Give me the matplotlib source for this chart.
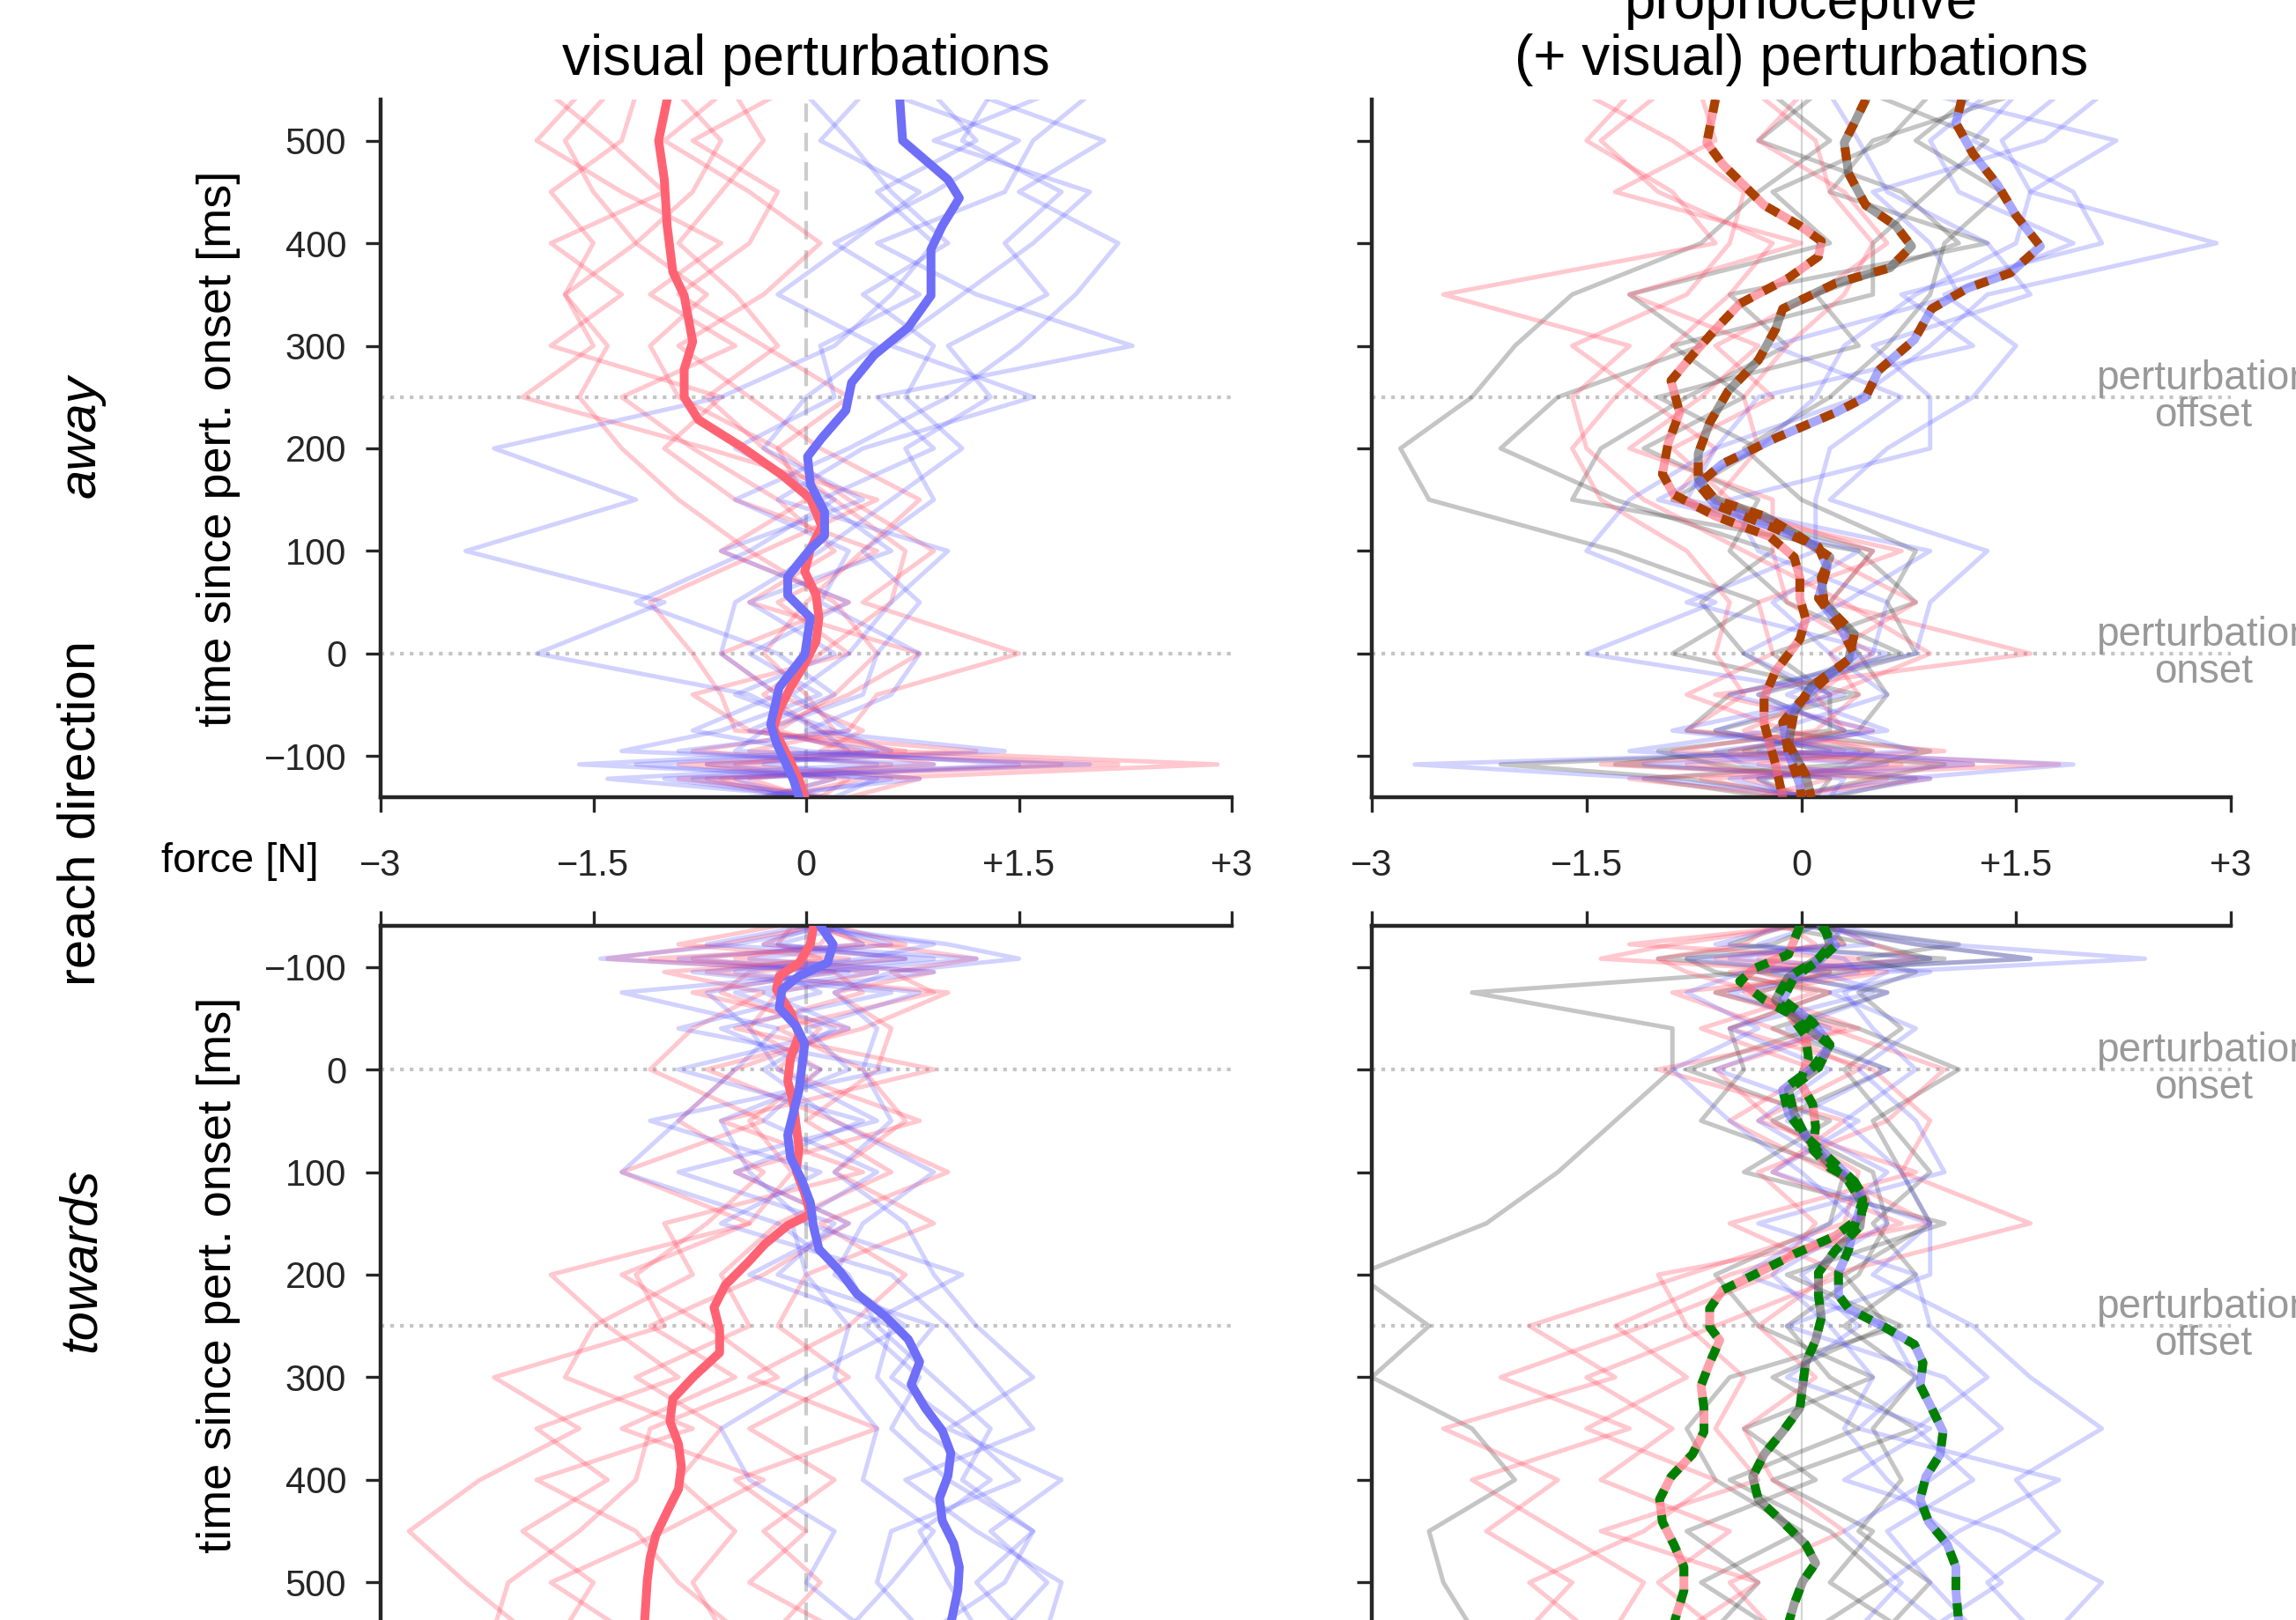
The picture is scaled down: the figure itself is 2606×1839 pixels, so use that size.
import matplotlib

matplotlib.use("Agg")
import matplotlib.pyplot as plt

plt.rcParams["font.family"] = ["Liberation Sans", "DejaVu Sans"]

# ---------------------------------------------------------------- data
# time grid (ms since perturbation onset) for the single-trial traces
T_THIN = [-140, -122, -108, -95, -75, -40, 0, 50, 100, 150, 200, 250, 300, 350, 400, 450, 500, 545]

# away / visual
AWAY_VIS_RED = [
    [0.1, -0.6, 0.9, 0.3, -0.2, 0.2, 0.5, 0.2, -0.4, -0.9, -1.3, -1.6, -1.4, -1.7, -1.5, -1.8, -1.3, -1.2],
    [-0.2, 0.4, 2.9, 0.6, 0.1, -0.3, 0.1, 0.6, 0.7, 0.2, -0.3, -0.7, -0.2, -0.5, -0.9, -0.6, -0.3, -0.5],
    [0.2, -0.9, 1.8, -0.4, 0.3, 0.5, 1.5, 0.4, 0.9, 0.3, -0.2, -0.9, -1.1, -0.7, -1.2, -0.8, -0.6, -0.9],
    [-0.3, 0.2, -0.7, 1.2, -0.5, -0.6, -0.8, -1.1, -0.3, 0.5, -0.7, -2.0, -1.5, -1.7, -1.2, -1.5, -1.7, -1.4],
    [0.0, -0.4, 0.6, -0.8, 0.2, 0.0, -0.3, 0.0, 0.4, 0.8, 0.1, -0.4, -0.9, -0.3, 0.1, -0.4, -1.0, -0.6],
    [0.3, 0.8, -0.5, 0.4, -0.3, 0.3, 0.8, -0.4, 0.2, -0.2, -0.8, -1.3, -0.5, -1.1, -0.6, -1.3, -1.9, -1.6],
    [-0.1, -0.7, 2.2, 0.1, 0.4, -0.2, -0.6, 0.3, -0.6, 0.0, -0.2, 0.3, -0.3, -0.9, -0.4, -0.2, -0.8, -0.2],
    [0.1, 0.3, -0.9, 0.7, -0.4, -0.8, 0.3, -0.2, 0.5, -0.5, -1.0, -0.6, -1.8, -1.3, -1.8, -1.0, -1.4, -1.8],
]
AWAY_VIS_BLUE = [
    [-0.2, 0.6, -1.6, 0.3, 0.1, -0.4, -1.9, -1.0, -2.4, -1.2, -2.2, -0.6, 0.2, 0.6, 0.9, 0.5, 1.2, 0.9],
    [0.1, -0.8, 2.0, -0.5, -0.3, 0.4, 0.5, 0.8, 0.4, 0.9, 0.7, 1.3, 1.0, 1.7, 1.4, 1.8, 1.1, 1.3],
    [-0.3, 0.2, -1.2, 0.6, 0.2, -0.5, 0.2, -0.4, 0.6, 0.1, 0.9, 0.5, 2.3, 1.2, 0.5, 1.4, 1.6, 2.0],
    [0.0, -1.0, 0.9, -1.3, -0.6, 0.1, -0.4, 0.3, -0.6, 0.4, -0.3, 0.0, 0.5, -0.2, 0.3, 0.8, 0.1, 0.4],
    [0.2, 0.5, -0.7, 1.4, 0.0, 0.6, 0.8, 0.1, 0.3, -0.5, 0.3, 1.0, 1.5, 1.9, 2.2, 1.5, 2.1, 1.2],
    [-0.1, -0.5, 1.5, 0.0, -0.8, -0.2, -0.6, -0.5, 0.1, 0.6, 1.1, 0.7, 0.9, 0.4, 1.0, 0.6, 0.3, 0.0],
    [0.1, -1.4, 0.5, -0.9, 0.3, -0.1, 0.3, 0.6, 1.0, -0.2, 0.4, 1.6, 0.6, 1.1, 1.6, 2.0, 0.9, 1.7],
    [-0.4, 0.8, -0.3, 0.5, -0.4, 0.2, -0.2, -1.2, -0.4, 0.2, -0.5, 0.2, 0.1, 0.8, 0.2, 0.9, 1.5, 0.6],
]

# towards / visual
TOW_VIS_RED = [
    [0.1, -0.6, -1.4, 0.2, -0.8, 0.3, -0.5, -0.9, -0.3, -0.7, -1.2, -1.0, -2.2, -1.6, -2.3, -2.8, -2.4, -2.0],
    [0.0, 0.5, 1.2, 0.6, 0.9, -0.2, 0.4, 0.7, 0.2, 0.9, 0.0, -0.2, 0.3, -0.4, 0.2, -0.3, 0.1, -0.2],
    [-0.2, -0.9, 0.3, -1.0, -0.3, -0.8, -1.1, -0.3, -1.3, -0.4, -1.8, -1.4, -0.9, -1.9, -1.4, -2.0, -1.5, -1.7],
    [0.2, 0.1, -0.5, 0.9, 0.2, 0.6, 0.5, 0.0, 0.6, -0.2, -0.6, -0.4, -1.2, -0.6, -0.9, -0.5, -0.8, -0.6],
    [0.0, -0.3, 0.7, -0.4, -0.6, 0.1, -0.2, 0.8, -0.5, 0.3, -0.3, -1.1, -0.5, -1.3, -0.3, -1.0, -1.8, -1.3],
    [0.1, 0.4, -0.8, 0.2, 0.4, -0.5, 0.9, -0.6, 0.4, -1.0, -0.8, -1.5, -1.7, -0.8, -1.9, -1.2, -0.9, -0.5],
    [-0.1, -0.2, 0.1, -0.7, 1.0, 0.4, -0.7, 0.2, 1.0, 0.1, 0.7, 0.3, -0.4, 0.5, -0.5, 0.0, -0.4, 0.2],
    [0.2, 0.7, -1.1, 0.5, -0.2, -0.4, 0.1, -0.4, -0.1, -0.4, -1.3, -0.7, -0.2, -1.1, -1.2, -1.6, -2.1, -2.2],
]
TOW_VIS_BLUE = [
    [0.2, -0.5, -1.45, 0.3, -1.3, -0.2, -0.5, -0.9, -1.3, -0.2, 0.3, 0.5, 0.9, 1.3, 1.1, 1.6, 1.2, 1.5],
    [0.0, 1.0, 1.5, 0.6, 0.2, 0.5, 0.4, 0.6, 0.2, 0.7, 0.9, 1.2, 1.6, 1.0, 1.8, 1.3, 1.7, 1.4],
    [0.3, -0.2, 0.7, -0.8, 0.6, -0.6, 0.1, -0.3, 0.5, -0.1, 0.0, 0.3, 0.2, 0.5, 0.4, 0.9, 0.6, 0.3],
    [0.1, 0.6, -0.4, 0.9, -0.3, 0.3, -0.9, 0.4, -0.5, 0.3, -0.4, 0.6, 0.5, 0.8, 1.3, 0.8, 1.0, 1.2],
    [0.0, -0.7, 0.9, -0.2, 0.1, -0.9, 0.6, -1.1, 0.1, -0.6, 0.6, 1.0, 1.3, 1.6, 0.7, 1.2, 1.8, 1.7],
    [0.2, 0.4, -0.9, 0.5, -0.5, 0.2, -0.3, 0.2, 0.9, 0.4, 0.2, 0.7, 0.0, -0.6, -0.4, 0.2, 0.0, 0.4],
    [-0.1, 0.9, 0.4, -0.5, 0.8, 0.0, 0.3, -0.6, -0.4, 0.0, 1.1, 0.4, 0.8, 0.6, 1.0, 1.6, 1.4, 0.9],
    [0.1, -0.3, 1.2, 0.1, -0.7, -0.4, -0.2, 0.5, -0.9, 0.2, -0.2, 0.9, 0.6, 1.1, 1.5, 0.6, 0.5, 0.8],
]

# away / proprioceptive
AWAY_PRO_RED = [
    [-0.1, 0.6, -1.4, 0.3, -0.4, 0.2, 0.9, 0.3, -0.4, -1.1, -1.5, -1.6, -1.2, -2.5, -0.6, -0.9, -1.5, -1.2],
    [0.0, -0.7, 1.8, -0.2, 0.5, -0.6, 1.6, 0.2, 0.5, -0.6, -0.3, -0.4, -0.1, 0.3, 0.5, 0.2, 0.1, -0.3],
    [-0.3, 0.2, -0.8, 1.0, -0.8, -0.4, -0.6, -0.5, -0.8, -1.4, -1.6, -1.3, -0.9, -0.5, -0.2, -1.0, -1.4, -1.0],
    [0.1, -0.4, 0.7, -0.9, 0.1, 0.4, 0.2, 0.8, 0.1, -0.5, -0.9, -0.2, -0.6, 0.1, 0.6, 0.3, -0.3, 0.0],
    [-0.2, 0.9, -0.3, 0.5, -0.1, -0.8, -0.2, -0.3, 0.7, -0.9, -0.6, -1.1, -1.6, -0.8, -0.5, -0.4, -0.9, -1.5],
    [0.0, -1.2, 1.2, -0.5, 0.3, 0.1, 0.5, -0.1, -0.2, -0.2, -1.2, -0.7, -0.3, -1.2, 0.0, -1.3, -0.6, -0.7],
]
AWAY_PRO_BLUE = [
    [0.1, -1.0, -2.7, 0.4, -0.9, 0.3, -1.5, -0.6, -1.5, -1.2, -0.6, 0.4, 0.9, 1.3, 2.9, 1.6, 1.4, 1.8],
    [-0.2, 0.7, 1.9, -0.3, 0.5, -0.5, 0.8, 0.9, 1.3, 0.2, 0.6, 1.2, 1.5, 1.0, 1.9, 1.1, 0.9, 1.3],
    [0.0, -0.5, 0.6, -1.2, -0.2, 0.6, 0.2, -0.2, 0.4, -1.0, -0.3, 0.1, 0.3, 0.8, 1.5, 1.6, 2.2, 0.9],
    [0.2, 0.3, -1.1, 0.8, 0.3, -0.3, 0.5, 0.6, -0.3, -0.5, 0.9, 0.9, 0.5, 1.6, 1.3, 0.6, 0.4, 0.2],
    [-0.1, -0.3, 1.2, 0.2, -0.6, 0.2, -0.4, 0.3, 0.9, -0.8, -0.6, -0.3, 1.2, 0.7, 2.1, 1.9, 1.2, 1.5],
    [0.1, 0.9, -0.4, -0.6, 0.6, -0.1, 0.6, -0.8, 0.1, 0.1, 0.2, 0.7, -0.2, 1.1, 0.9, 0.5, 1.7, 2.1],
]
AWAY_PRO_GRAY = [
    [0.1, -0.8, -2.1, 0.2, -0.6, 0.4, -0.9, -0.3, -1.3, -2.6, -2.8, -2.3, -2.0, -1.6, -0.7, -0.3, 0.2, -0.2],
    [-0.1, 0.5, 1.0, -0.4, 0.3, -0.3, 0.8, 0.6, 0.8, 0.0, -0.4, 0.2, 0.6, 0.9, 1.0, 1.4, 0.8, 1.2],
    [0.0, -0.3, 0.5, 0.9, -0.2, 0.1, -0.4, -0.7, -0.2, -1.3, -2.1, -1.7, -0.7, -1.2, 0.2, -0.2, 0.6, 0.9],
    [0.2, 0.8, -1.3, -0.5, 0.4, 0.6, 0.4, 0.2, 0.5, -0.9, -0.3, -1.0, 0.4, 0.1, 1.1, 0.7, -0.3, 0.1],
    [-0.2, -1.1, 0.3, 0.5, -0.8, -0.5, 0.7, -0.1, -0.5, -0.3, -1.1, -0.4, -0.9, 0.5, 0.5, 0.9, 1.3, 0.5],
    [0.1, 0.2, -0.6, -1.0, 0.2, 0.2, -0.2, 0.8, 0.4, -1.6, -1.4, -0.8, -0.1, -0.5, 1.3, 0.2, 0.5, 1.5],
]

# towards / proprioceptive
TOW_PRO_RED = [
    [0.0, -0.9, -1.4, 0.2, -0.6, 0.3, -0.6, -0.2, 0.4, 0.3, -0.8, -1.9, -1.3, -2.5, -1.7, -2.2, -1.6, -1.9],
    [0.2, 0.5, 0.8, -0.3, 0.2, -0.5, 0.5, 0.9, 0.7, 1.6, 0.2, -0.3, 0.1, -0.4, -0.2, 0.3, -0.5, -0.2],
    [-0.2, -0.4, -1.0, -0.8, -0.3, 0.4, -1.0, 0.3, -0.2, 0.7, -0.5, -1.3, -0.8, -1.5, -0.6, -1.1, -1.9, -1.5],
    [0.1, 0.3, -0.6, 0.5, -0.9, -0.2, 0.4, -0.3, 0.8, -0.5, 0.3, -0.6, -1.5, -0.9, -1.4, -0.5, -1.0, -0.6],
    [0.0, -1.2, 0.4, -0.5, 0.1, -0.7, 0.1, -0.5, 0.2, 0.9, -1.0, -0.8, -0.4, -0.6, -0.3, -1.4, -0.3, -0.8],
    [-0.1, 0.1, -0.3, 0.6, -0.4, 0.2, 1.0, 0.6, -0.3, 0.1, -0.2, -1.1, -2.1, -1.2, -2.3, -1.7, -1.1, -1.3],
]
TOW_PRO_BLUE = [
    [0.2, 1.0, 2.4, 0.6, 0.3, 0.5, 0.8, 0.3, 0.7, 0.9, 0.5, 1.2, 1.6, 2.1, 1.5, 1.8, 1.3, 1.6],
    [-0.1, -0.6, 0.9, -0.4, -0.8, -0.3, -0.9, -0.5, 0.0, 0.4, -0.2, 0.2, 0.5, 0.3, 0.6, 1.0, 1.4, 0.9],
    [0.3, 0.2, -0.5, 0.9, 0.2, 0.8, 0.4, 0.8, 1.0, -0.3, 0.8, 0.9, 1.3, 0.8, 1.2, 0.6, 0.9, 1.2],
    [0.0, 0.8, 1.6, -0.2, 0.5, -0.5, 0.2, -0.3, 0.3, 0.6, 0.0, 0.4, -0.1, 0.9, 0.3, 1.4, 2.1, 1.8],
    [0.1, -0.3, 0.3, 0.4, -0.5, 0.2, -0.6, 0.4, -0.2, 0.9, 0.9, -0.1, 1.0, 1.4, 0.9, 0.3, 0.7, 0.4],
    [0.2, 0.5, -0.8, 0.1, 0.6, -0.1, 0.6, -0.1, 0.6, 0.2, -0.4, 0.6, 0.8, 0.4, 1.8, 1.1, 0.6, 1.0],
]
TOW_PRO_GRAY = [
    [0.1, 0.8, 1.6, -0.3, -2.3, -0.9, -0.9, -1.3, -1.7, -2.2, -3.1, -2.6, -3.0, -2.3, -2.0, -2.6, -2.5, -2.3],
    [-0.1, -0.5, 1.0, 0.3, -0.6, 0.4, 1.1, 0.5, 0.7, 0.9, 0.3, 0.6, -0.2, 0.4, -0.5, 0.2, 0.6, 0.1],
    [0.2, 0.3, -0.8, -0.6, 0.2, -0.5, -0.4, -0.7, 0.3, 0.2, -0.6, -0.3, 0.5, -0.4, 0.1, -0.8, -0.3, -0.6],
    [0.0, 1.1, 0.4, 0.8, 0.4, 0.7, 0.3, 0.6, 0.9, 0.5, 0.8, 0.3, 0.8, 0.5, 0.7, 0.4, 0.9, 0.6],
    [0.1, -0.2, -1.0, 0.2, -0.3, 0.1, -0.8, 0.2, -0.4, 1.0, -0.1, 0.7, -0.5, -0.8, -0.6, 0.0, -0.7, -0.2],
    [-0.2, 0.5, 0.9, -0.3, 0.6, -0.2, 0.6, -0.2, 0.5, 0.6, 0.4, -0.1, 0.2, 0.8, -0.2, 0.5, 0.2, 0.7],
]

# condition means (time, force)
AV_RED_T = [540, 500, 462, 417, 372, 349, 304, 277, 250, 228, 201, 174, 151, 124, 102, 80, 57, 35, 12, -10, -33, -55, -73, -100, -123, -140]
AV_RED_X = [-0.98, -1.04, -1.0, -0.98, -0.94, -0.86, -0.80, -0.86, -0.86, -0.76, -0.45, -0.17, 0.03, 0.11, 0.03, -0.01, 0.07, 0.09, 0.07, -0.01, -0.11, -0.19, -0.23, -0.13, -0.05, -0.01]
AV_BLUE_T = [540, 500, 462, 444, 417, 394, 349, 318, 291, 264, 237, 210, 192, 165, 138, 115, 102, 75, 57, 35, -1, -33, -69, -87, -123, -140]
AV_BLUE_X = [0.66, 0.68, 1.0, 1.08, 0.96, 0.88, 0.88, 0.72, 0.48, 0.32, 0.28, 0.11, 0.01, 0.03, 0.13, 0.13, 0.03, -0.13, -0.13, 0.03, -0.01, -0.19, -0.25, -0.21, -0.09, -0.05]

TV_RED_T = [-138, -122, -104, -91, -78, -56, -34, -11, 11, 33, 55, 77, 99, 121, 141, 152, 170, 188, 210, 232, 254, 276, 299, 321, 343, 365, 387, 409, 431, 454, 476, 498, 540]
TV_RED_X = [0.05, 0.03, -0.05, -0.19, -0.21, -0.11, -0.05, -0.11, -0.13, -0.09, -0.07, -0.05, -0.07, -0.01, 0.03, -0.13, -0.29, -0.41, -0.57, -0.65, -0.61, -0.61, -0.79, -0.94, -0.96, -0.90, -0.88, -0.90, -0.98, -1.06, -1.10, -1.12, -1.14]
TV_BLUE_T = [-138, -122, -104, -91, -78, -60, -42, -25, -3, 20, 42, 64, 86, 108, 130, 152, 175, 197, 219, 241, 263, 285, 307, 330, 352, 374, 396, 418, 440, 462, 485, 507, 540]
TV_BLUE_X = [0.11, 0.19, 0.15, -0.05, -0.17, -0.19, -0.07, -0.01, -0.03, -0.05, -0.09, -0.13, -0.11, -0.03, 0.03, 0.05, 0.09, 0.24, 0.36, 0.56, 0.72, 0.80, 0.74, 0.84, 0.96, 1.02, 1.00, 0.94, 0.96, 1.04, 1.08, 1.07, 1.02]

AP_RED_T = [540, 498, 477, 437, 417, 402, 387, 366, 341, 316, 291, 266, 235, 205, 175, 155, 134, 114, 94, 74, 54, 34, 14, -17, -43, -68, -88, -108, -140]
AP_RED_X = [-0.60, -0.66, -0.55, -0.26, -0.01, 0.14, 0.12, -0.09, -0.43, -0.60, -0.76, -0.91, -0.85, -0.93, -0.97, -0.89, -0.60, -0.22, -0.05, -0.01, -0.01, 0.03, -0.01, -0.18, -0.26, -0.26, -0.22, -0.18, -0.13]
AP_GRAY_T = [540, 517, 498, 468, 437, 417, 397, 376, 361, 336, 316, 286, 256, 225, 195, 170, 150, 134, 114, 94, 74, 49, 19, -6, -32, -57, -88, -118, -140]
AP_GRAY_X = [0.45, 0.37, 0.30, 0.33, 0.45, 0.66, 0.77, 0.62, 0.24, -0.13, -0.18, -0.30, -0.51, -0.64, -0.72, -0.72, -0.60, -0.26, -0.01, 0.20, 0.14, 0.16, 0.37, 0.33, 0.07, -0.05, -0.09, 0.03, 0.07]
AP_BLUE_T = [540, 517, 487, 457, 427, 397, 371, 356, 336, 306, 276, 250, 235, 210, 185, 165, 145, 124, 104, 84, 54, 24, -1, -21, -47, -67, -97, -128, -140]
AP_BLUE_X = [1.12, 1.08, 1.20, 1.37, 1.50, 1.67, 1.46, 1.16, 0.91, 0.79, 0.54, 0.45, 0.24, -0.18, -0.55, -0.72, -0.60, -0.22, 0.12, 0.18, 0.12, 0.28, 0.37, 0.20, -0.01, -0.13, -0.09, -0.01, 0.0]

TP_RED_T = [-140, -112, -99, -86, -68, -55, -33, -11, 12, 34, 56, 78, 96, 109, 127, 144, 162, 180, 198, 215, 233, 251, 264, 286, 308, 330, 353, 375, 397, 419, 441, 463, 485, 508, 540]
TP_RED_X = [-0.01, -0.09, -0.32, -0.43, -0.26, -0.09, 0.03, 0.05, -0.01, 0.08, 0.10, 0.08, 0.20, 0.37, 0.45, 0.41, 0.24, -0.05, -0.30, -0.55, -0.64, -0.64, -0.57, -0.64, -0.70, -0.68, -0.68, -0.76, -0.91, -0.99, -0.97, -0.89, -0.82, -0.82, -0.89]
TP_GRAY_T = [-140, -121, -108, -90, -68, -46, -24, -2, 20, 43, 65, 87, 109, 131, 153, 176, 198, 220, 242, 264, 286, 308, 330, 353, 375, 397, 419, 441, 463, 481, 499, 521, 540]
TP_GRAY_X = [0.16, 0.20, 0.12, -0.09, -0.18, -0.01, 0.20, 0.12, -0.09, -0.05, 0.03, 0.16, 0.33, 0.43, 0.41, 0.24, 0.12, 0.12, 0.14, 0.10, 0.03, 0.01, -0.01, -0.13, -0.26, -0.34, -0.30, -0.13, 0.03, 0.10, 0.01, -0.05, -0.09]
TP_BLUE_T = [-140, -121, -108, -90, -68, -46, -24, -2, 20, 43, 65, 87, 109, 127, 153, 176, 198, 220, 233, 251, 268, 286, 308, 330, 353, 375, 397, 419, 441, 463, 485, 508, 540]
TP_BLUE_X = [0.14, 0.24, 0.14, -0.05, -0.13, 0.08, 0.20, 0.08, -0.13, -0.09, 0.03, 0.20, 0.37, 0.43, 0.37, 0.33, 0.26, 0.26, 0.33, 0.58, 0.79, 0.85, 0.83, 0.91, 0.99, 0.97, 0.87, 0.83, 0.89, 1.02, 1.08, 1.08, 1.10]

X_TICKS = [-3, -1.5, 0, 1.5, 3]
X_TICK_LABELS = ["\u22123", "\u22121.5", "0", "+1.5", "+3"]
Y_TICKS = [-100, 0, 100, 200, 300, 400, 500]
EVENT_TIMES = [0, 250]
EVENT_LABELS = ["perturbation\nonset", "perturbation\noffset"]

# ---------------------------------------------------------------- styles
RED_THIN = (1.0, 0.33, 0.42, 0.32)
BLUE_THIN = (0.33, 0.33, 1.0, 0.26)
GRAY_THIN = (0.25, 0.25, 0.25, 0.3)
RED_MEAN = "#ff6373"
BLUE_MEAN = "#6e6ef8"
DARK = "#262626"
MEAN_LW = 3.6

W, H = 2606, 1839
fig = plt.figure(figsize=(W / 200, H / 200), dpi=200)

ax_tl = fig.add_axes([432 / W, 934 / H, 966 / W, 792 / H])
ax_tr = fig.add_axes([1557 / W, 934 / H, 975 / W, 792 / H])
ax_bl = fig.add_axes([432 / W, -4 / H, 966 / W, 792 / H])
ax_br = fig.add_axes([1557 / W, -4 / H, 975 / W, 792 / H])


def thin(ax, traces, color):
    for tr in traces:
        ax.plot(tr, T_THIN, color=color, lw=1.8, solid_joinstyle="round", zorder=2)


def setup(ax, top_row, left_col):
    ax.set_xlim(-3, 3)
    if top_row:
        ax.set_ylim(-140, 540)
    else:
        ax.set_ylim(540, -140)
    for side in ("right", "top", "bottom", "left"):
        ax.spines[side].set_color(DARK)
        ax.spines[side].set_linewidth(1.6)
    ax.spines["right"].set_visible(False)
    ax.spines["top" if top_row else "bottom"].set_visible(False)
    ax.set_xticks(X_TICKS)
    ax.set_yticks(Y_TICKS)
    ax.tick_params(axis="both", colors=DARK, width=1.2, length=6,
                   labelsize=15, labelcolor=DARK)
    ax.tick_params(axis="y", pad=8)
    if top_row:
        ax.xaxis.set_ticks_position("bottom")
        ax.set_xticklabels(X_TICK_LABELS)
        ax.tick_params(axis="x", pad=15)
    else:
        ax.xaxis.set_ticks_position("top")
        ax.tick_params(axis="x", labeltop=False, labelbottom=False)
    if left_col:
        ax.axvline(0, color="#cccccc", lw=1.5, ls=(0, (5, 3)), zorder=1)
        ax.set_ylabel("time since pert. onset [ms]", fontsize=19.5)
        ax.yaxis.set_label_coords(-0.165, 0.5)
    else:
        ax.set_yticklabels([])
        ax.axvline(0, color="#aaaaaa", lw=0.8, alpha=0.5, zorder=1)
    for t in EVENT_TIMES:
        ax.axhline(t, color="#c4c4c4", lw=1.5, ls=":", zorder=1)
    if not left_col:
        for t, lab in zip(EVENT_TIMES, EVENT_LABELS):
            ax.text(2.81, t, lab, color="#999999", fontsize=16.5, ha="center",
                    va="center", multialignment="center", linespacing=0.95,
                    clip_on=False, zorder=6)


def mean_pair(ax, t, x, under, over):
    ax.plot(x, t, color=under, lw=MEAN_LW, zorder=4)
    ax.plot(x, t, color=over, lw=MEAN_LW, dashes=(1.5, 1.5), zorder=5)


# top-left: away, visual
setup(ax_tl, True, True)
thin(ax_tl, AWAY_VIS_RED, RED_THIN)
thin(ax_tl, AWAY_VIS_BLUE, BLUE_THIN)
ax_tl.plot(AV_RED_X, AV_RED_T, color=RED_MEAN, lw=MEAN_LW, zorder=4)
ax_tl.plot(AV_BLUE_X, AV_BLUE_T, color=BLUE_MEAN, lw=MEAN_LW, zorder=4)
ax_tl.set_title("visual perturbations", fontsize=23, pad=10)

# bottom-left: towards, visual
setup(ax_bl, False, True)
thin(ax_bl, TOW_VIS_RED, RED_THIN)
thin(ax_bl, TOW_VIS_BLUE, BLUE_THIN)
ax_bl.plot(TV_RED_X, TV_RED_T, color=RED_MEAN, lw=MEAN_LW, zorder=4)
ax_bl.plot(TV_BLUE_X, TV_BLUE_T, color=BLUE_MEAN, lw=MEAN_LW, zorder=4)

# top-right: away, proprioceptive
setup(ax_tr, True, False)
thin(ax_tr, AWAY_PRO_GRAY, GRAY_THIN)
thin(ax_tr, AWAY_PRO_RED, RED_THIN)
thin(ax_tr, AWAY_PRO_BLUE, BLUE_THIN)
mean_pair(ax_tr, AP_RED_T, AP_RED_X, (1.0, 0.39, 0.45, 0.6), "#aa4100")
mean_pair(ax_tr, AP_GRAY_T, AP_GRAY_X, (0.3, 0.3, 0.3, 0.55), "#aa4100")
mean_pair(ax_tr, AP_BLUE_T, AP_BLUE_X, (0.43, 0.43, 0.97, 0.6), "#aa4100")
ax_tr.set_title("proprioceptive\n(+ visual) perturbations", fontsize=23, pad=10,
                linespacing=1.1)

# bottom-right: towards, proprioceptive
setup(ax_br, False, False)
thin(ax_br, TOW_PRO_GRAY, GRAY_THIN)
thin(ax_br, TOW_PRO_RED, RED_THIN)
thin(ax_br, TOW_PRO_BLUE, BLUE_THIN)
mean_pair(ax_br, TP_RED_T, TP_RED_X, (1.0, 0.39, 0.45, 0.6), "#008000")
mean_pair(ax_br, TP_GRAY_T, TP_GRAY_X, (0.3, 0.3, 0.3, 0.55), "#008000")
mean_pair(ax_br, TP_BLUE_T, TP_BLUE_X, (0.43, 0.43, 0.97, 0.6), "#008000")

# row labels and shared x label
fig.text(92 / W, 1 - 495 / H, "away", rotation=90, style="italic",
         fontsize=21.5, ha="center", va="center")
fig.text(92 / W, 1 - 923 / H, "reach direction", rotation=90,
         fontsize=21.5, ha="center", va="center")
fig.text(92 / W, 1 - 1430 / H, "towards", rotation=90, style="italic",
         fontsize=21.5, ha="center", va="center")
fig.text(362 / W, 1 - 978 / H, "force [N]", fontsize=17, ha="right", va="center")

fig.savefig("out.png", dpi=200)
